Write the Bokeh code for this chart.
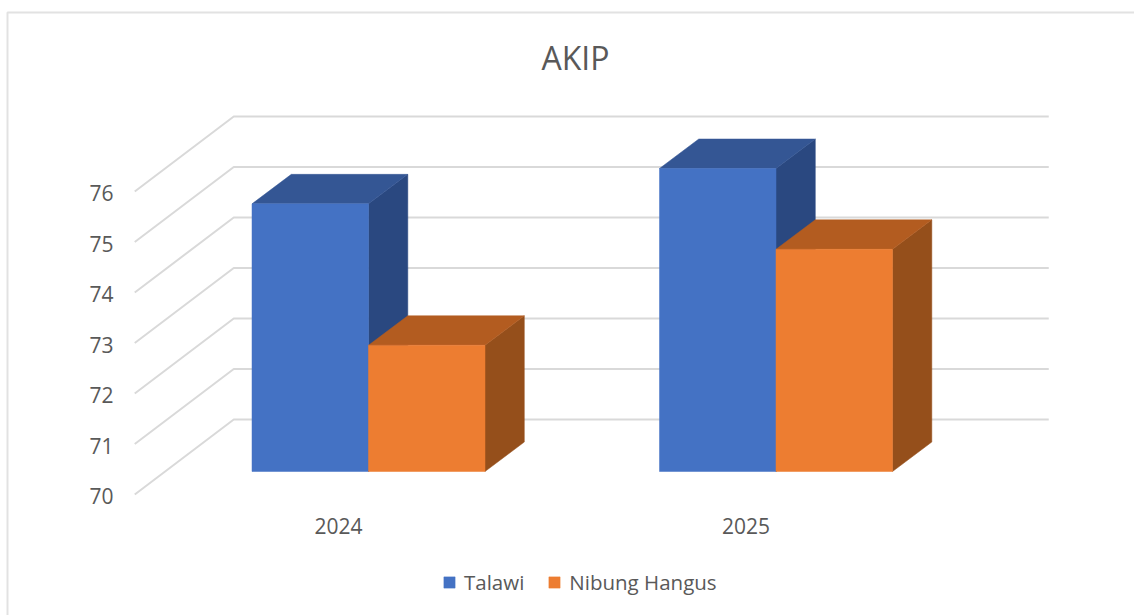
from bokeh.core.properties import value
from bokeh.embed import file_html
from bokeh.resources import INLINE
from bokeh.plotting import figure
from bokeh.models import (FixedTicker, Legend, LegendItem, LinearAxis, Range1d)

# ---- data ----
years = [2024, 2025]
talawi = [75.3, 76.0]
nibung_hangus = [72.5, 74.4]
value_ticks = [70, 71, 72, 73, 74, 75, 76]
series_names = ["Talawi", "Nibung Hangus"]
title_text = "AKIP"

# ---- 3D look ----
FRONT = ["#4472C4", "#ED7D31"]
TOP = ["#345694", "#B35C20"]
SIDE = ["#2A4880", "#954F1B"]
TEXT = "#595959"
GRID = "#D9D9D9"
BORDER = "#E2E2E2"
FONT = "Open Sans"

W, H = 1134, 615
PX_X = 407.5      # px per year
PX_Y = 50.5       # px per value unit
X_ORIGIN_PX = 338.0  # pixel of the first year
Y_ORIGIN_PX = 494.0  # pixel of the lowest tick
WALL_DX, WALL_DY = 99 / PX_X, 75 / PX_Y       # floor depth
BAR_DX, BAR_DY = 30 / PX_X, 23 / PX_Y         # front face of the bars
DEPTH_DX, DEPTH_DY = 39.3 / PX_X, 29.5 / PX_Y  # depth of a bar
BAR_W = 116.5 / PX_X
LABEL_SHIFT_PX = 1.5
BASE = value_ticks[0]

def x_at(px):
    return years[0] + (px - X_ORIGIN_PX) / PX_X

def y_at(py):
    return BASE + (Y_ORIGIN_PX - py) / PX_Y

x0 = years[0] - 0.5
x1 = years[-1] + 0.5

p = figure(width=W, height=H, output_backend="svg", toolbar_location=None,
           x_range=Range1d(x_at(0), x_at(W)),
           y_range=Range1d(y_at(H), y_at(0)),
           x_axis_type=None, y_axis_type=None,
           min_border=0,
           outline_line_color=None, background_fill_color="white",
           border_fill_color="white")

# labels sit a little below their grid line in the reference
p.extra_y_ranges["labels"] = Range1d(y_at(H - LABEL_SHIFT_PX), y_at(-LABEL_SHIFT_PX))

# chart border
p.line([x_at(7), x_at(7), x_at(W)], [y_at(H), y_at(12), y_at(12)],
       line_color=BORDER, line_width=2)

# title
p.text(x=[x_at(575)], y=[y_at(57)], text=[title_text], text_font=value(FONT),
       text_font_size="32px", text_color=TEXT, text_align="center",
       text_baseline="middle")

# axes
yax = LinearAxis(ticker=FixedTicker(ticks=value_ticks), y_range_name="labels")
yax.axis_line_color = None
yax.major_tick_line_color = None
yax.minor_tick_line_color = None
yax.major_label_text_font = FONT
yax.major_label_text_font_size = "21px"
yax.major_label_text_color = TEXT
yax.major_label_standoff = -119
p.add_layout(yax, "left")

xax = LinearAxis(ticker=FixedTicker(ticks=years))
xax.axis_line_color = None
xax.major_tick_line_color = None
xax.minor_tick_line_color = None
xax.major_label_text_font = FONT
xax.major_label_text_font_size = "21px"
xax.major_label_text_color = TEXT
xax.major_label_standoff = -104
p.add_layout(xax, "below")

# wall grid lines: floor edge then back wall
p.multi_line(
    xs=[[x0, x0 + WALL_DX, x1 + WALL_DX] for _ in value_ticks],
    ys=[[v, v + WALL_DY, v + WALL_DY] for v in value_ticks],
    line_color=GRID, line_width=2)

# bars
legend_renderers = [None, None]
for i, yr in enumerate(years):
    for s, vals in enumerate([talawi, nibung_hangus]):
        v = vals[i]
        left = yr + BAR_DX + (s - 1) * BAR_W
        right = left + BAR_W
        base = BASE + BAR_DY
        top = base + (v - BASE)  # bar height counts from the floor at the bars' plane
        p.patch([right, right + DEPTH_DX, right + DEPTH_DX, right],
                [base, base + DEPTH_DY, top + DEPTH_DY, top],
                fill_color=SIDE[s], line_color=SIDE[s], line_width=0.5)
        p.patch([left, right, right + DEPTH_DX, left + DEPTH_DX],
                [top, top, top + DEPTH_DY, top + DEPTH_DY],
                fill_color=TOP[s], line_color=TOP[s], line_width=0.5)
        r = p.quad(left=left, right=right, bottom=base, top=top,
                   fill_color=FRONT[s], line_color=FRONT[s], line_width=0.5)
        legend_renderers[s] = r

legend = Legend(
    items=[LegendItem(label=n, renderers=[r])
           for n, r in zip(series_names, legend_renderers)],
    orientation="horizontal", location=(442, 19),
    border_line_color=None, background_fill_alpha=0,
    label_text_font=FONT, label_text_font_size="20.5px",
    label_text_color=TEXT, glyph_width=14, glyph_height=14,
    label_standoff=8, spacing=23, padding=0, margin=0)
p.add_layout(legend)

open("out.html", "w").write(file_html(p, INLINE))
